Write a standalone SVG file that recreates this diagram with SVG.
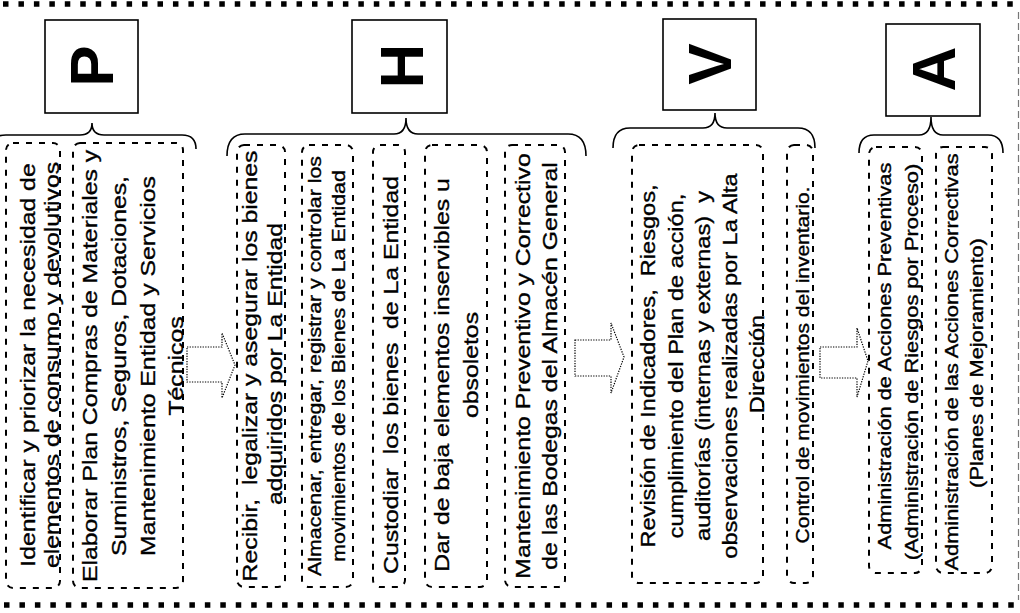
<svg xmlns="http://www.w3.org/2000/svg" width="1020" height="613" viewBox="0 0 1020 613">
<style>
.bg{fill:#fff}
.border{stroke:#000;stroke-width:5.5;stroke-dasharray:5.5 9.95;fill:none}
.rborder{stroke:#777;stroke-width:1.2;stroke-dasharray:7 4;fill:none}
.letterbox{fill:#fff;stroke:#000;stroke-width:1.6}
.letter{font-family:"Liberation Sans",Arial,sans-serif;font-weight:bold;font-size:62px;fill:#000}
.brace{fill:none;stroke:#000;stroke-width:1.6}
.dbox{fill:none;stroke:#000;stroke-width:2;stroke-dasharray:6 7}
.t,.ts,.tv,.ta{font-family:"Liberation Sans",Arial,sans-serif;fill:#000;stroke:#000;stroke-width:0.35}
.t{font-size:21px}
.ts{font-size:17.5px}
.tv{font-size:20px}
.ta{font-size:18.5px}
.arrow{fill:#fff;stroke:#000;stroke-width:1.2;stroke-dasharray:1.3 1.3}
</style>
<rect class="bg" x="0" y="0" width="1020" height="613"/>
<g id="frame">
<line class="border" x1="3" y1="4" x2="1020" y2="4"/>
<line class="border" x1="4" y1="605" x2="1020" y2="605"/>
<line class="rborder" x1="1018.5" y1="12" x2="1018.5" y2="600"/>
</g>
<g id="connectors">
<path class="brace" d="M -8,147 Q -8,135 6,135 L 80,135 Q 92,135 92,123 Q 92,135 104,135 L 182,135 Q 196,135 196,149"/>
<path class="brace" d="M 227,156 Q 227,134 245,134 L 394,134 Q 406,134 406,118 Q 406,134 418,134 L 568,134 Q 586,134 586,156"/>
<path class="brace" d="M 613,148 Q 613,128 630,128 L 703,128 Q 715,128 715,113 Q 715,128 727,128 L 798,128 Q 815,128 815,148"/>
<path class="brace" d="M 859,153 Q 859,135 874,135 L 919,135 Q 931,135 931,117 Q 931,135 943,135 L 988,135 Q 1003,135 1003,153"/>
<polygon class="arrow" points="187,347 222,347 222,333 235,365 222,398 222,382 187,382"/>
<polygon class="arrow" points="575,340 611,340 611,323 624,357 611,393 611,376 575,376"/>
<polygon class="arrow" points="820,347 857,347 857,328 868,361 857,397 857,378 820,378"/>
</g>
<g id="node-P">
<rect class="letterbox" x="45" y="20" width="93" height="93"/>
<text class="letter" text-anchor="middle" transform="translate(113,66) rotate(-90)">P</text>
</g>
<g id="node-H">
<rect class="letterbox" x="352" y="20" width="95" height="93"/>
<text class="letter" text-anchor="middle" transform="translate(423,66) rotate(-90)">H</text>
</g>
<g id="node-V">
<rect class="letterbox" x="663" y="19" width="93" height="91"/>
<text class="letter" text-anchor="middle" transform="translate(731,64) rotate(-90)">V</text>
</g>
<g id="node-A">
<rect class="letterbox" x="886" y="24" width="94" height="92"/>
<text class="letter" text-anchor="middle" transform="translate(955,69) rotate(-90)">A</text>
</g>
<g id="node-P1">
<rect class="dbox" x="6" y="143" width="54" height="445" rx="7"/>
<text class="t" text-anchor="middle" transform="translate(35,365) rotate(-90) scale(1.18,1)">Identificar y priorizar la necesidad de</text>
<text class="t" text-anchor="middle" transform="translate(59,365) rotate(-90) scale(1.18,1)">elementos de consumo y devolutivos</text>
</g>
<g id="node-P2">
<rect class="dbox" x="73" y="143" width="110" height="445" rx="7"/>
<text class="t" text-anchor="middle" transform="translate(97,366) rotate(-90) scale(1.18,1)">Elaborar Plan Compras de Materiales y</text>
<text class="t" text-anchor="middle" transform="translate(126,366) rotate(-90) scale(1.18,1)">Suministros, Seguros, Dotaciones,</text>
<text class="t" text-anchor="middle" transform="translate(155,366) rotate(-90) scale(1.18,1)">Mantenimiento Entidad y Servicios</text>
<text class="t" text-anchor="middle" transform="translate(183,366) rotate(-90) scale(1.18,1)">Técnicos</text>
</g>
<g id="node-H1">
<rect class="dbox" x="237" y="145" width="48" height="442" rx="7"/>
<text class="t" text-anchor="middle" xml:space="preserve" transform="translate(257,366) rotate(-90) scale(1.18,1)">Recibir,  legalizar y asegurar los bienes</text>
<text class="t" text-anchor="middle" transform="translate(282,364) rotate(-90) scale(1.18,1)">adquiridos por La Entidad</text>
</g>
<g id="node-H2">
<rect class="dbox" x="302" y="145" width="51" height="442" rx="7"/>
<text class="ts" text-anchor="middle" transform="translate(321,366) rotate(-90) scale(1.22,1)">Almacenar, entregar, registrar y controlar los</text>
<text class="ts" text-anchor="middle" transform="translate(345,366) rotate(-90) scale(1.22,1)">movimientos de los Bienes de La Entidad</text>
</g>
<g id="node-H3">
<rect class="dbox" x="373" y="145" width="32" height="442" rx="7"/>
<text class="t" text-anchor="middle" xml:space="preserve" transform="translate(398,375) rotate(-90) scale(1.18,1)">Custodiar  los bienes  de La Entidad</text>
</g>
<g id="node-H4">
<rect class="dbox" x="425" y="145" width="62" height="442" rx="7"/>
<text class="t" text-anchor="middle" transform="translate(449,375) rotate(-90) scale(1.18,1)">Dar de baja elementos inservibles u</text>
<text class="t" text-anchor="middle" transform="translate(478,365) rotate(-90) scale(1.18,1)">obsoletos</text>
</g>
<g id="node-H5">
<rect class="dbox" x="505" y="145" width="60" height="442" rx="7"/>
<text class="t" text-anchor="middle" transform="translate(530,366) rotate(-90) scale(1.18,1)">Mantenimiento Preventivo y Correctivo</text>
<text class="t" text-anchor="middle" transform="translate(557,366) rotate(-90) scale(1.18,1)">de las Bodegas del Almacén General</text>
</g>
<g id="node-V1">
<rect class="dbox" x="632" y="145" width="131" height="438" rx="7"/>
<text class="tv" text-anchor="middle" xml:space="preserve" transform="translate(655,366) rotate(-90) scale(1.18,1)">Revisión de Indicadores,  Riesgos,</text>
<text class="tv" text-anchor="middle" transform="translate(683,366) rotate(-90) scale(1.18,1)">cumplimiento del Plan de acción,</text>
<text class="tv" text-anchor="middle" xml:space="preserve" transform="translate(710,366) rotate(-90) scale(1.18,1)">auditorías (internas y externas)  y</text>
<text class="tv" text-anchor="middle" transform="translate(737,366) rotate(-90) scale(1.18,1)">observaciones realizadas por La Alta</text>
<text class="tv" text-anchor="middle" transform="translate(764,364) rotate(-90) scale(1.18,1)">Dirección</text>
</g>
<g id="node-V2">
<rect class="dbox" x="787" y="145" width="26" height="438" rx="7"/>
<text class="ts" text-anchor="middle" transform="translate(809,365) rotate(-90) scale(1.2,1)">Control de movimientos del inventario.</text>
</g>
<g id="node-A1">
<rect class="dbox" x="869" y="147" width="53" height="426" rx="7"/>
<text class="ta" text-anchor="middle" transform="translate(891,356) rotate(-90) scale(1.18,1)">Administración de Acciones Preventivas</text>
<text class="ta" text-anchor="middle" transform="translate(918,362) rotate(-90) scale(1.18,1)">(Administración de Riesgos por Proceso)</text>
</g>
<g id="node-A2">
<rect class="dbox" x="936" y="147" width="56" height="426" rx="7"/>
<text class="ta" text-anchor="middle" transform="translate(958,362) rotate(-90) scale(1.18,1)">Administración de las Acciones Correctivas</text>
<text class="ta" text-anchor="middle" transform="translate(983,363) rotate(-90) scale(1.18,1)">(Planes de Mejoramiento)</text>
</g>
</svg>
